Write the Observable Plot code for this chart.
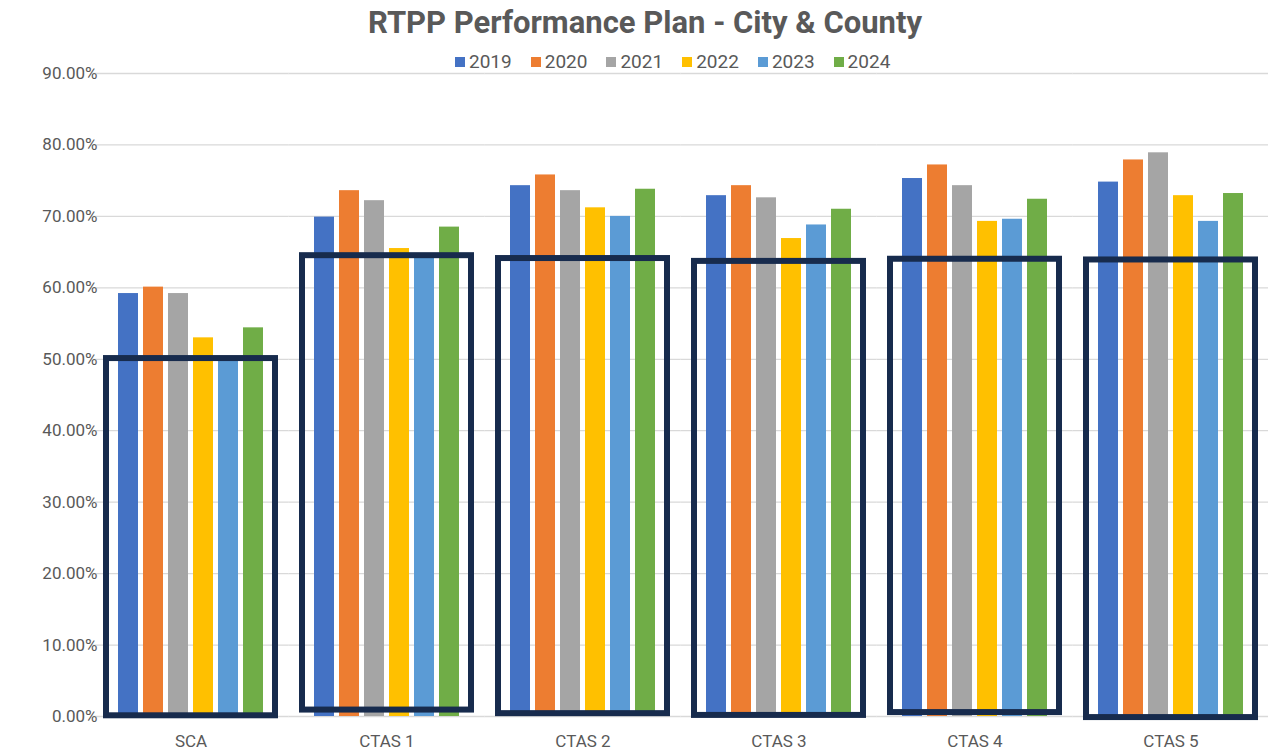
<!DOCTYPE html>
<html>
<head>
<meta charset="utf-8">
<script src="https://cdn.jsdelivr.net/npm/d3@7"></script>
<script src="https://cdn.jsdelivr.net/npm/@observablehq/plot@0.6"></script>
<style>
  html, body { margin: 0; padding: 0; background: #fff; }
  #wrap { position: relative; width: 1268px; height: 751px; font-family: Roboto, "Open Sans", sans-serif; color: #595959; }
  #title { position: absolute; top: 4px; left: 0; width: 1290px; text-align: center; font-size: 31px; font-weight: bold; color: #595959; }
  #legend { position: absolute; top: 50px; left: 455px; display: flex; gap: 19px; font-size: 19px; color: #595959; }
  #legend .item { display: flex; align-items: center; gap: 4px; }
  #legend .sw { width: 10px; height: 10px; display: inline-block; }
  #chart { position: absolute; top: 0; left: 0; }
</style>
</head>
<body>
<div id="wrap">
  <div id="chart"></div>
  <div id="title"></div>
  <div id="legend"></div>
</div>
<script>
const titleText = "RTPP Performance Plan - City & County";
const categories = ["SCA", "CTAS 1", "CTAS 2", "CTAS 3", "CTAS 4", "CTAS 5"];
const years = ["2019", "2020", "2021", "2022", "2023", "2024"];
const colors = ["#4472C4", "#ED7D31", "#A5A5A5", "#FFC000", "#5B9BD5", "#70AD47"];

// percentages per year, one entry per category
const v2019 = [59.2, 69.9, 74.3, 72.9, 75.3, 74.8];
const v2020 = [60.1, 73.6, 75.8, 74.3, 77.2, 77.9];
const v2021 = [59.2, 72.2, 73.6, 72.6, 74.3, 78.9];
const v2022 = [53.0, 65.5, 71.2, 66.9, 69.3, 72.9];
const v2023 = [50.0, 64.6, 70.0, 68.8, 69.6, 69.3];
const v2024 = [54.4, 68.5, 73.8, 71.0, 72.4, 73.2];
const series = [v2019, v2020, v2021, v2022, v2023, v2024];

// target boxes (percent), per category
const boxTop = [50.1, 64.5, 64.1, 63.7, 64.0, 63.9];
const boxBottom = [0.1, 0.9, 0.4, 0.15, 0.55, -0.15];

const yTicks = [0, 0.1, 0.2, 0.3, 0.4, 0.5, 0.6, 0.7, 0.8, 0.9];

const rows = categories.flatMap((c, i) => years.map((y, j) => ({category: c, year: y, value: series[j][i] / 100})));
const targets = categories.map((c, i) => ({category: c, top: boxTop[i] / 100, bottom: boxBottom[i] / 100}));

document.getElementById("title").textContent = titleText;
const legend = document.getElementById("legend");
years.forEach((y, i) => {
  const it = document.createElement("div");
  it.className = "item";
  const sw = document.createElement("span");
  sw.className = "sw";
  sw.style.background = colors[i];
  const lb = document.createElement("span");
  lb.textContent = y;
  it.appendChild(sw); it.appendChild(lb);
  legend.appendChild(it);
});

const W = 1268, ML = 92, MR = 0;
const fxPadInner = 0.22;
const halfGap = ((W - ML - MR) / categories.length) * fxPadInner / 2;

const chart = Plot.plot({
  width: W,
  height: 751,
  marginTop: 73,
  marginBottom: 35,
  marginLeft: ML,
  marginRight: MR,
  style: {fontFamily: "Roboto, 'Open Sans', sans-serif", color: "#595959", background: "transparent", overflow: "visible"},
  fx: {domain: categories, paddingInner: fxPadInner, paddingOuter: fxPadInner / 2, label: null, axis: null},
  x: {domain: years, paddingInner: 0.2, paddingOuter: 0.1, axis: null},
  y: {domain: [0, 0.9], label: null},
  color: {domain: years, range: colors},
  marks: [
    Plot.ruleY(yTicks, {stroke: "#d9d9d9", strokeWidth: 1.3, insetLeft: -halfGap, insetRight: -halfGap}),
    Plot.barY(rows, {fx: "category", x: "year", y: "value", fill: "year"}),
    Plot.rect(targets, {fx: "category", y1: "bottom", y2: "top", fill: "none", stroke: "#172B4D", strokeWidth: 6, insetLeft: -8, insetRight: -8}),
    Plot.axisY(yTicks, {tickFormat: d3.format(".2%"), tickSize: 0, tickPadding: 17, fontSize: 17, label: null}),
    Plot.axisFx({anchor: "bottom", tickSize: 0, tickPadding: 18, fontSize: 17, label: null})
  ]
});
document.getElementById("chart").appendChild(chart);
</script>
</body>
</html>
